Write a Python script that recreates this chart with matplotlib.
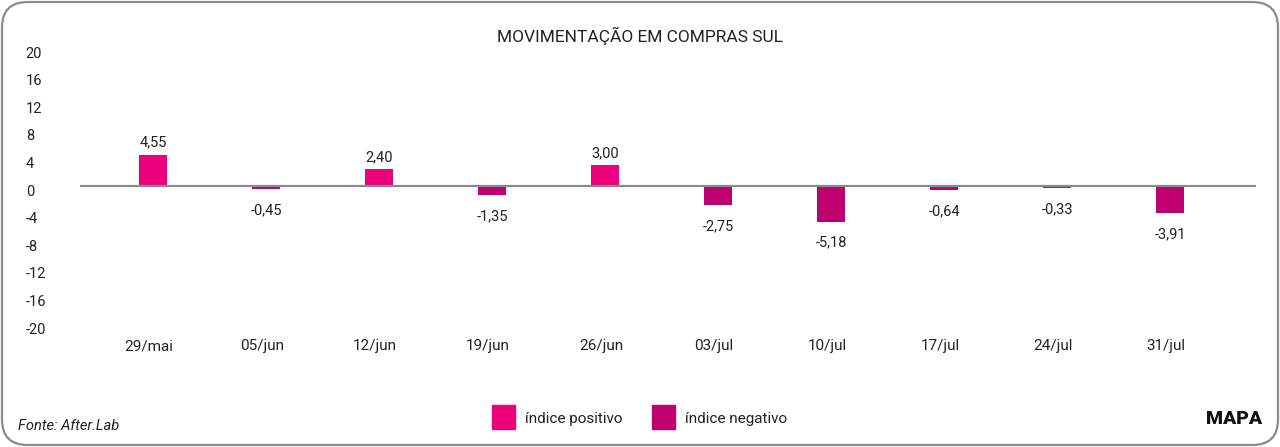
import matplotlib
matplotlib.use("Agg")
import matplotlib.pyplot as plt
from matplotlib.patches import FancyBboxPatch, Rectangle
from matplotlib.transforms import ScaledTranslation

# data
weeks = ["29/mai", "05/jun", "12/jun", "19/jun", "26/jun",
         "03/jul", "10/jul", "17/jul", "24/jul", "31/jul"]
values = [4.55, -0.45, 2.40, -1.35, 3.00, -2.75, -5.18, -0.64, -0.33, -3.91]
y_ticks = [20, 16, 12, 8, 4, 0, -4, -8, -12, -16, -20]

POS = "#EC007C"
NEG = "#C0006F"
GREY = "#8A8A8A"
TXT = "#222222"

plt.rcParams["font.family"] = ["Roboto", "DejaVu Sans"]

W, H = 1280, 447
fig = plt.figure(figsize=(W / 100, H / 100), dpi=100)

# rounded frame around the whole card
frame = FancyBboxPatch((2 / W, 2 / H), (W - 4) / W, (H - 4) / H,
                       boxstyle="round,pad=0,rounding_size=0.02",
                       transform=fig.transFigure, fill=False,
                       edgecolor=GREY, linewidth=1.6,
                       mutation_aspect=W / H)
fig.patches.append(frame)

# axes placed in pixel coordinates: x from 80 to 1256, y from 48 to 324
left, right, top, bottom = 80, 1256, 48, 324
ax = fig.add_axes([left / W, 1 - bottom / H, (right - left) / W, (bottom - top) / H])
ax.set_xlim(-0.646, 9.76)
ax.set_ylim(-20, 20)
for s in ax.spines.values():
    s.set_visible(False)

x = list(range(len(weeks)))
colors = [POS if v >= 0 else NEG for v in values]
ax.bar(x, values, width=0.25, color=colors, zorder=2)
ax.axhline(0, color=GREY, linewidth=1.6, zorder=3)

for xi, v in zip(x, values):
    label = f"{v:.2f}".replace(".", ",")
    if v >= 0:
        ax.annotate(label, (xi, v), xytext=(0, 3.5), textcoords="offset points",
                    ha="center", va="bottom", fontsize=10.5, color=TXT)
    else:
        ax.annotate(label, (xi, v), xytext=(0, -10), textcoords="offset points",
                    ha="center", va="top", fontsize=10.5, color=TXT)

ax.set_yticks(y_ticks)
ax.set_yticklabels([str(t) for t in y_ticks], fontsize=10.5, color=TXT, ha="left")
ax.tick_params(axis="y", length=0, pad=39)
shift = ScaledTranslation(0, -4 / 100, fig.dpi_scale_trans)
for lab in ax.get_yticklabels():
    lab.set_transform(lab.get_transform() + shift)

ax.set_xticks(x)
ax.set_xticklabels(weeks, fontsize=11, color=TXT)
ax.tick_params(axis="x", length=0, pad=11)
shiftx = ScaledTranslation(-4 / 100, 0, fig.dpi_scale_trans)
for lab in ax.get_xticklabels():
    lab.set_transform(lab.get_transform() + shiftx)

fig.text(640 / W, 1 - 36 / H, "MOVIMENTAÇÃO EM COMPRAS SUL", ha="center",
         va="center", fontsize=12.5, color=TXT)

# legend drawn by hand to keep the square markers in place
for px, name, col in [(492, "índice positivo", POS), (652, "índice negativo", NEG)]:
    fig.patches.append(Rectangle((px / W, 1 - 429 / H), 23 / W, 24 / H,
                                 transform=fig.transFigure, color=col))
    fig.text((px + 33) / W, 1 - 419 / H, name, ha="left", va="center",
             fontsize=11, color=TXT)

fig.text(18 / W, 1 - 426 / H, "Fonte: After.Lab", ha="left", va="center",
         fontsize=10.5, style="italic", color=TXT)
fig.text(1262 / W, 1 - 419 / H, "MAPA", ha="right", va="center",
         fontsize=14, fontweight="black", color="#111111")

fig.savefig("out.png", dpi=100)
